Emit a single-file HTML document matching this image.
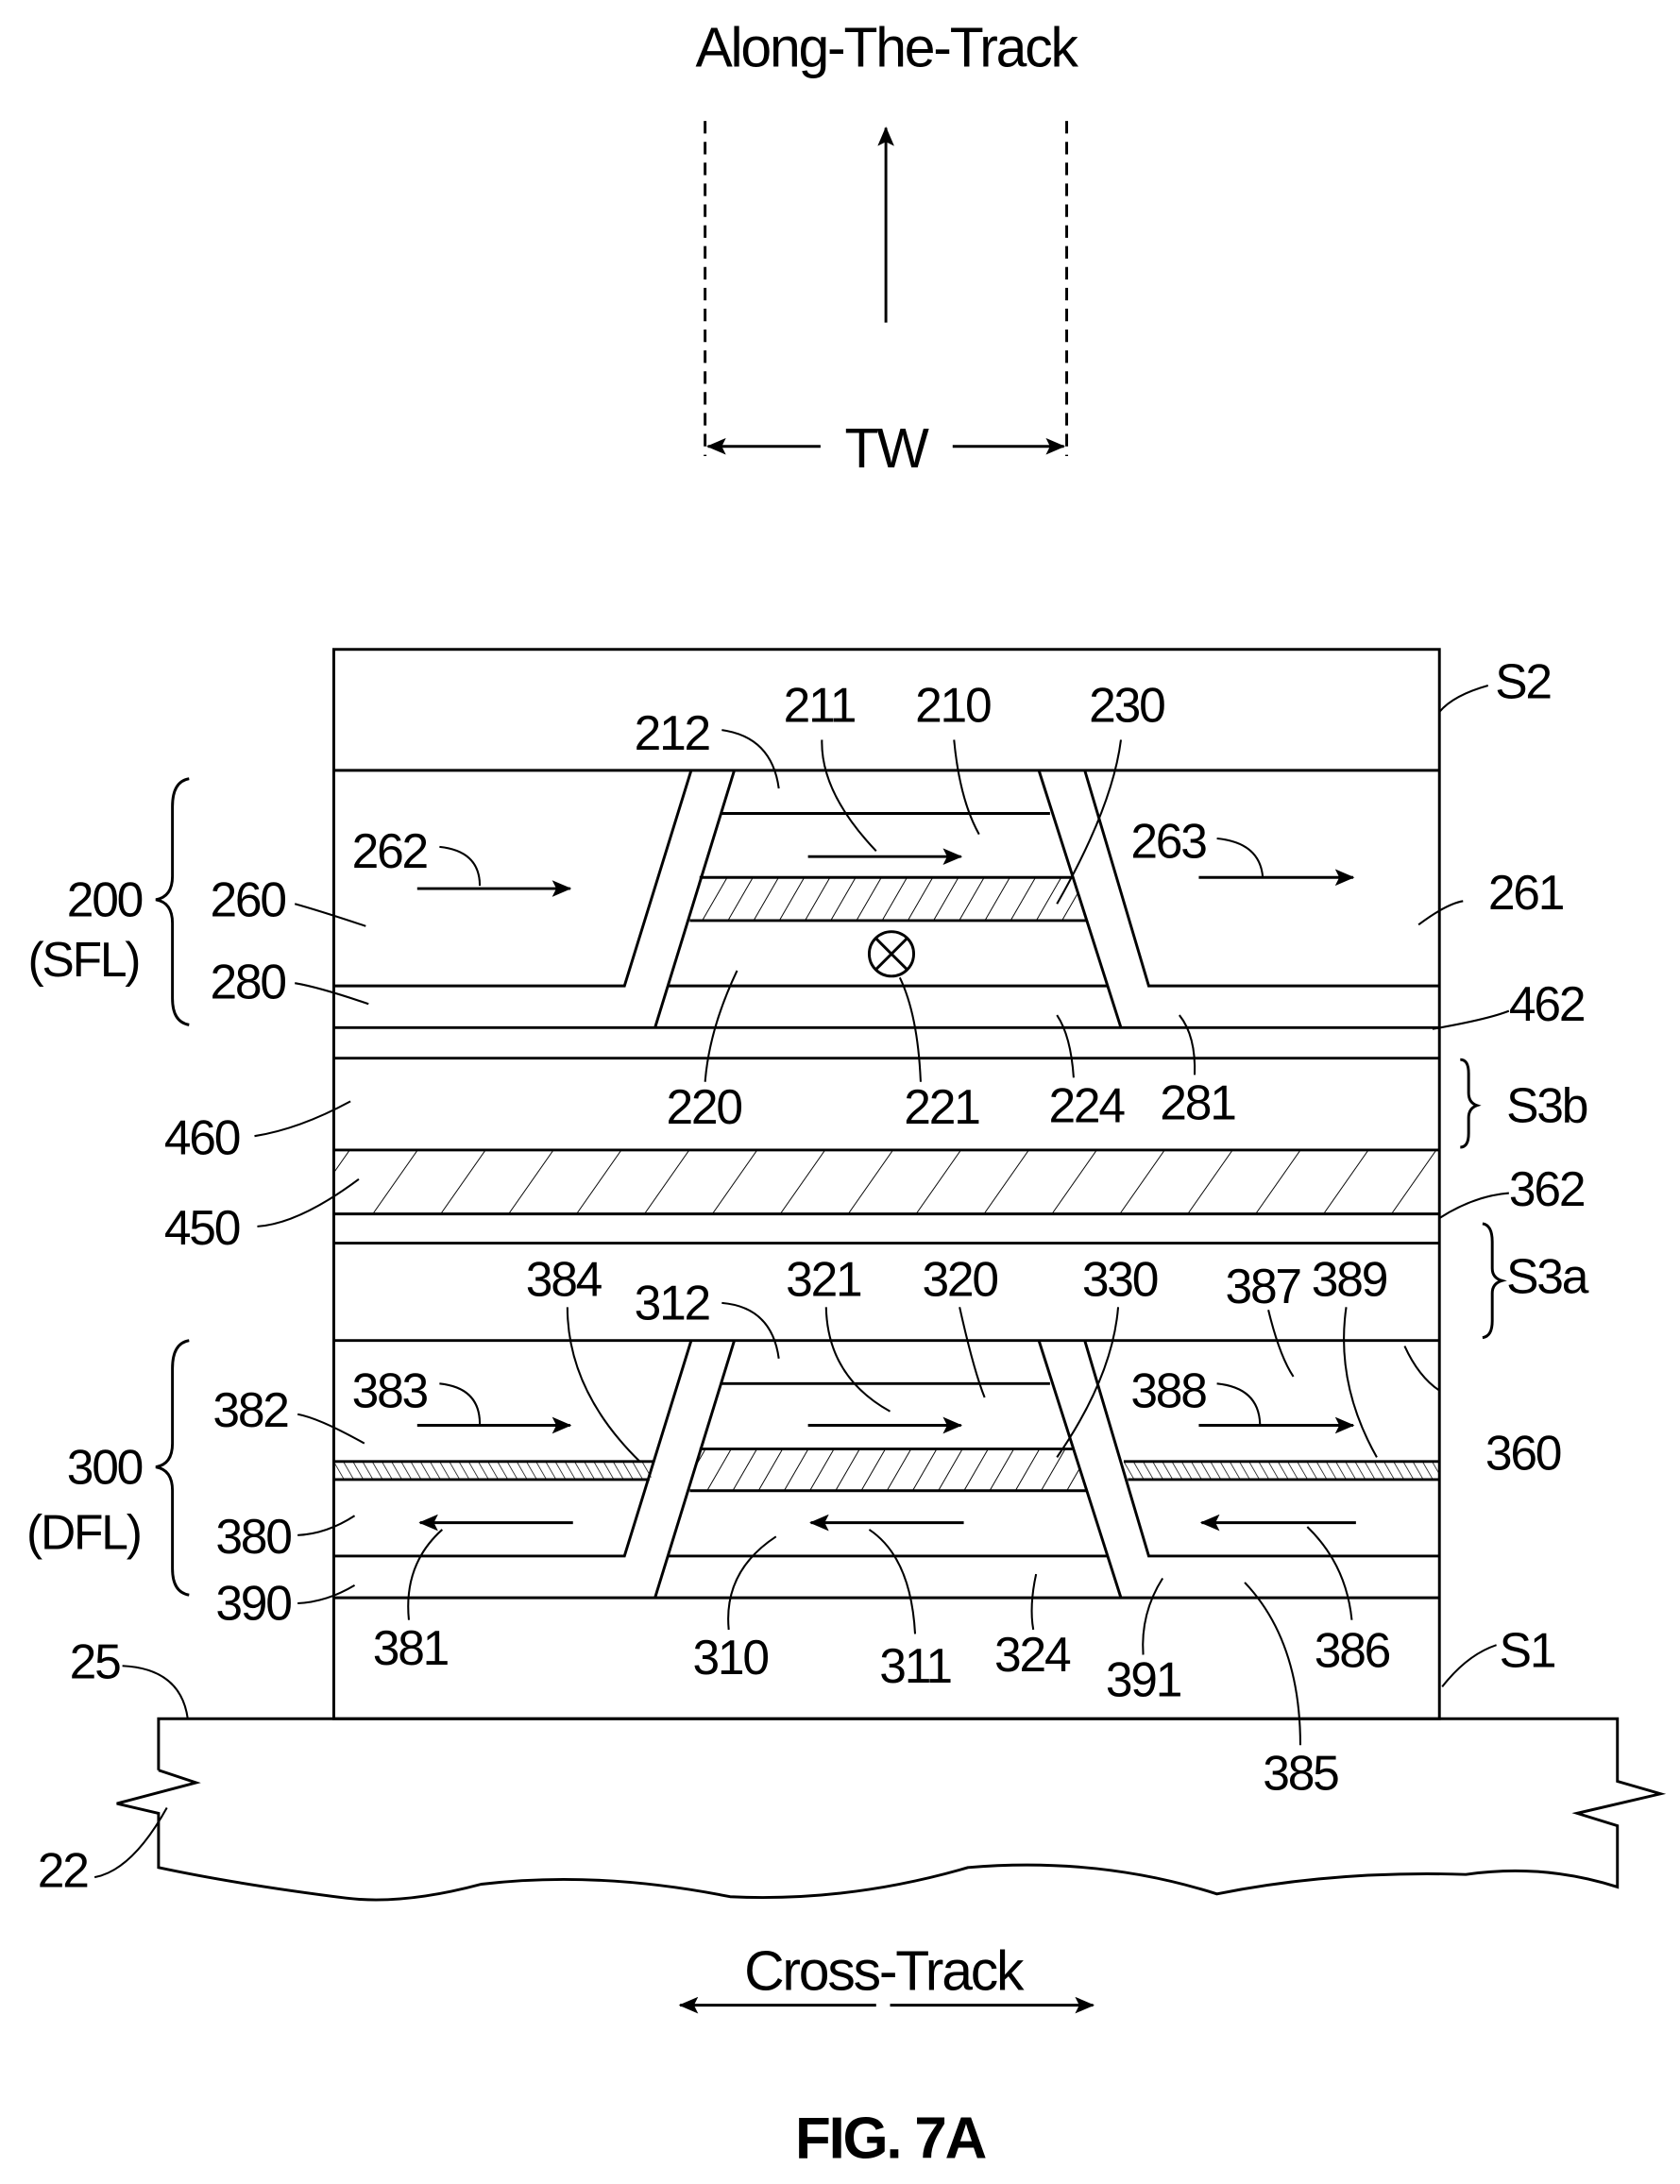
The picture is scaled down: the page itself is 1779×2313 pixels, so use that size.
<!DOCTYPE html>
<html><head><meta charset="utf-8"><style>
html,body{margin:0;padding:0;background:#fff}
svg{display:block}
text{font-family:"Liberation Sans",Arial,sans-serif;fill:#000;letter-spacing:-1.5px}
</style></head><body>
<svg width="1779" height="2313" viewBox="0 0 1208 1570.6" preserveAspectRatio="none" xmlns="http://www.w3.org/2000/svg">
<defs>
<pattern id="h1" patternUnits="userSpaceOnUse" width="16" height="16" patternTransform="rotate(30)">
<line x1="0" y1="0" x2="0" y2="16" stroke="#000" stroke-width="1.3"/></pattern>
<pattern id="h2" patternUnits="userSpaceOnUse" width="40" height="40" patternTransform="rotate(35)">
<line x1="0" y1="0" x2="0" y2="40" stroke="#000" stroke-width="1.3"/></pattern>
<pattern id="h3" patternUnits="userSpaceOnUse" width="6" height="6" patternTransform="rotate(-30)">
<line x1="0" y1="0" x2="0" y2="6" stroke="#000" stroke-width="1"/></pattern>
<marker id="ar" markerWidth="14" markerHeight="12" refX="13" refY="6" orient="auto" markerUnits="userSpaceOnUse">
<path d="M0,0 L14,6 L0,12 L3,6 Z" fill="#000"/></marker>
</defs>
<g fill="none" stroke="#000" stroke-width="2">
<line x1="507" y1="87" x2="507" y2="328" stroke-dasharray="9,6"/>
<line x1="767" y1="87" x2="767" y2="328" stroke-dasharray="9,6"/>
<line x1="637" y1="232" x2="637" y2="92" marker-end="url(#ar)"/>
<line x1="590" y1="321" x2="509" y2="321" marker-end="url(#ar)"/>
<line x1="685" y1="321" x2="765" y2="321" marker-end="url(#ar)"/>

<polygon points="240,827 1035,827 1035,873 240,873" fill="url(#h2)" stroke="none"/>
<polygon points="503,631 771,631 782,662 496,662" fill="url(#h1)" stroke="none"/>
<polygon points="503,1042 771,1042 782,1072 496,1072" fill="url(#h1)" stroke="none"/>
<polygon points="240,1051 470,1051 468,1064 240,1064" fill="url(#h3)" stroke="none"/>
<polygon points="808,1051 1035,1051 1035,1064 810,1064" fill="url(#h3)" stroke="none"/>

<rect x="240" y="467" width="795" height="769"/>
<line x1="240" y1="554" x2="1035" y2="554"/>
<line x1="240" y1="739" x2="1035" y2="739"/>
<line x1="240" y1="761" x2="1035" y2="761"/>
<line x1="240" y1="827" x2="1035" y2="827"/>
<line x1="240" y1="873" x2="1035" y2="873"/>
<line x1="240" y1="894" x2="1035" y2="894"/>
<line x1="240" y1="964" x2="1035" y2="964"/>
<line x1="240" y1="1149" x2="1035" y2="1149"/>

<polyline points="240,709 449,709 497,554"/>
<line x1="528" y1="554" x2="471" y2="739"/>
<line x1="747" y1="554" x2="806" y2="739"/>
<polyline points="780,554 826,709 1035,709"/>
<line x1="519" y1="585" x2="755" y2="585"/>
<line x1="503" y1="631" x2="771" y2="631"/>
<line x1="496" y1="662" x2="782" y2="662"/>
<line x1="480" y1="709" x2="796" y2="709"/>
<circle cx="641" cy="686" r="16"/>
<line x1="630" y1="675" x2="652" y2="697"/><line x1="652" y1="675" x2="630" y2="697"/>
<line x1="300" y1="639" x2="410" y2="639" marker-end="url(#ar)"/>
<line x1="581" y1="616" x2="691" y2="616" marker-end="url(#ar)"/>
<line x1="862" y1="631" x2="973" y2="631" marker-end="url(#ar)"/>

<polyline points="240,1119 449,1119 497,964"/>
<line x1="528" y1="964" x2="471" y2="1149"/>
<line x1="747" y1="964" x2="806" y2="1149"/>
<polyline points="780,964 826,1119 1035,1119"/>
<line x1="519" y1="995" x2="755" y2="995"/>
<line x1="503" y1="1042" x2="771" y2="1042"/>
<line x1="496" y1="1072" x2="782" y2="1072"/>
<line x1="480" y1="1119" x2="796" y2="1119"/>
<line x1="240" y1="1051" x2="470" y2="1051"/><line x1="240" y1="1064" x2="467" y2="1064"/>
<line x1="808" y1="1051" x2="1035" y2="1051"/><line x1="811" y1="1064" x2="1035" y2="1064"/>
<line x1="300" y1="1025" x2="410" y2="1025" marker-end="url(#ar)"/>
<line x1="581" y1="1025" x2="691" y2="1025" marker-end="url(#ar)"/>
<line x1="862" y1="1025" x2="973" y2="1025" marker-end="url(#ar)"/>
<line x1="412" y1="1095" x2="302" y2="1095" marker-end="url(#ar)"/>
<line x1="693" y1="1095" x2="583" y2="1095" marker-end="url(#ar)"/>
<line x1="975" y1="1095" x2="864" y2="1095" marker-end="url(#ar)"/>

<path d="M114,1273 L114,1236 L1163,1236 L1163,1281 L1194,1290 L1134,1304 L1163,1313 L1163,1357 Q1110,1340 1054,1348 Q960,1345 875,1362 Q790,1335 696,1343 Q610,1368 525,1364 Q430,1345 346,1355 Q290,1370 249,1365 Q170,1355 114,1343 L114,1304 L84,1297 L141,1282 L114,1273"/>

<path d="M136,560 Q124,562 124,580 L124,630 Q124,645 112,647 Q124,649 124,664 L124,718 Q124,735 136,737"/>
<path d="M136,964 Q124,966 124,984 L124,1038 Q124,1053 112,1055 Q124,1057 124,1072 L124,1128 Q124,1145 136,1147"/>
<path d="M1050,762 Q1056,762 1056,772 L1056,786 Q1056,793 1062,795 Q1056,797 1056,804 L1056,815 Q1056,825 1050,825"/>
<path d="M1066,880 Q1073,881 1073,893 L1073,912 Q1073,919 1080,921 Q1073,923 1073,930 L1073,950 Q1073,961 1066,962"/>

<line x1="630" y1="1442" x2="489" y2="1442" marker-end="url(#ar)"/>
<line x1="640" y1="1442" x2="786" y2="1442" marker-end="url(#ar)"/>
</g>

<g fill="none" stroke="#000" stroke-width="1.4">
<path d="M1070,493 Q1045,500 1035,512"/>
<path d="M519,525 Q555,530 560,567"/>
<path d="M591,532 Q590,570 630,612"/>
<path d="M686,532 Q690,575 704,600"/>
<path d="M806,532 Q800,580 760,650"/>
<path d="M316,609 Q345,612 345,637"/>
<path d="M875,603 Q906,606 908,631"/>
<path d="M212,650 Q230,655 263,666"/>
<path d="M1052,648 Q1040,650 1020,665"/>
<path d="M212,707 Q230,710 265,722"/>
<path d="M1085,727 Q1070,733 1030,740"/>
<path d="M507,778 Q510,740 530,698"/>
<path d="M662,778 Q660,730 647,703"/>
<path d="M772,775 Q770,745 760,730"/>
<path d="M859,773 Q860,745 848,730"/>
<path d="M183,817 Q215,812 252,792"/>
<path d="M185,882 Q215,880 258,848"/>
<path d="M1085,858 Q1060,860 1035,876"/>
<path d="M408,940 Q408,1000 460,1051"/>
<path d="M519,937 Q555,940 560,977"/>
<path d="M594,940 Q595,990 640,1015"/>
<path d="M690,940 Q700,985 708,1005"/>
<path d="M804,940 Q800,990 760,1048"/>
<path d="M912,942 Q920,975 930,990"/>
<path d="M968,940 Q960,995 990,1048"/>
<path d="M1035,1000 Q1020,990 1010,968"/>
<path d="M316,995 Q345,998 345,1024"/>
<path d="M875,995 Q905,998 906,1024"/>
<path d="M214,1017 Q230,1020 262,1038"/>
<path d="M214,1104 Q235,1103 255,1090"/>
<path d="M214,1153 Q235,1152 255,1140"/>
<path d="M294,1165 Q290,1125 318,1100"/>
<path d="M524,1172 Q520,1130 558,1105"/>
<path d="M658,1175 Q655,1120 625,1100"/>
<path d="M743,1172 Q740,1155 745,1132"/>
<path d="M822,1190 Q820,1160 836,1135"/>
<path d="M935,1255 Q935,1180 895,1138"/>
<path d="M972,1165 Q968,1125 940,1098"/>
<path d="M1076,1183 Q1055,1190 1037,1213"/>
<path d="M88,1198 Q130,1200 135,1236"/>
<path d="M68,1350 Q95,1345 120,1300"/>
</g>

<g font-size="35" text-anchor="middle">
<text x="637" y="48" font-size="40">Along-The-Track</text>
<text x="637" y="336" font-size="40">TW</text>
<text x="1095" y="502">S2</text>
<text x="589" y="519">211</text>
<text x="685" y="519">210</text>
<text x="810" y="519">230</text>
<text x="483" y="539">212</text>
<text x="280" y="624">262</text>
<text x="840" y="617">263</text>
<text x="178" y="659">260</text>
<text x="1097" y="654">261</text>
<text x="75" y="659">200</text>
<text x="60" y="702">(SFL)</text>
<text x="178" y="718">280</text>
<text x="1112" y="734">462</text>
<text x="506" y="808">220</text>
<text x="677" y="808">221</text>
<text x="781" y="807">224</text>
<text x="861" y="805">281</text>
<text x="1112" y="807">S3b</text>
<text x="145" y="830">460</text>
<text x="145" y="895">450</text>
<text x="1112" y="867">362</text>
<text x="1112" y="930">S3a</text>
<text x="405" y="932">384</text>
<text x="483" y="949">312</text>
<text x="592" y="932">321</text>
<text x="690" y="932">320</text>
<text x="805" y="932">330</text>
<text x="908" y="937">387</text>
<text x="970" y="932">389</text>
<text x="280" y="1012">383</text>
<text x="840" y="1012">388</text>
<text x="180" y="1026">382</text>
<text x="1095" y="1057">360</text>
<text x="75" y="1067">300</text>
<text x="60" y="1114">(DFL)</text>
<text x="182" y="1117">380</text>
<text x="182" y="1165">390</text>
<text x="295" y="1197">381</text>
<text x="525" y="1204">310</text>
<text x="658" y="1210">311</text>
<text x="742" y="1202">324</text>
<text x="822" y="1220">391</text>
<text x="972" y="1199">386</text>
<text x="1098" y="1199">S1</text>
<text x="935" y="1287">385</text>
<text x="68" y="1207">25</text>
<text x="45" y="1357">22</text>
<text x="635" y="1431" font-size="40">Cross-Track</text>
<text x="640" y="1552" font-size="42" font-weight="bold">FIG. 7A</text>
</g>
</svg>
</body></html>
